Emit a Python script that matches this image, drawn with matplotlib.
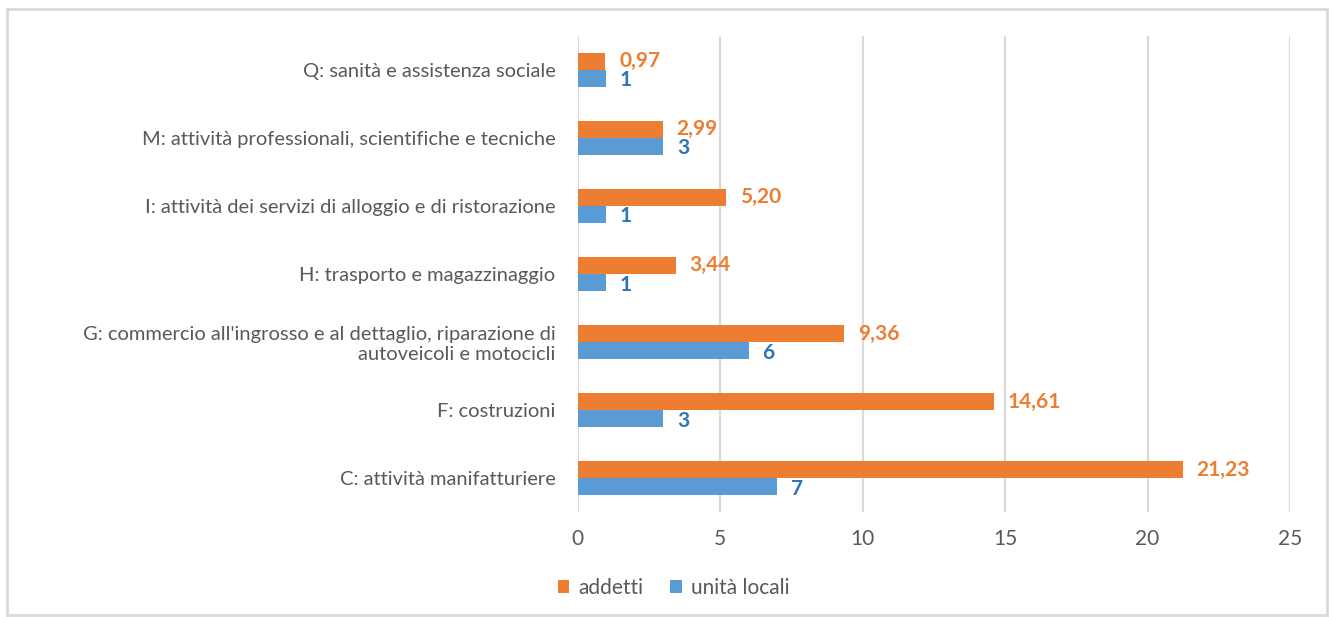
import matplotlib
matplotlib.use("Agg")
import matplotlib.pyplot as plt
import numpy as np
from matplotlib.patches import Rectangle

categories = [
    "C: attività manifatturiere",
    "F: costruzioni",
    "G: commercio all'ingrosso e al dettaglio, riparazione di\nautoveicoli e motocicli",
    "H: trasporto e magazzinaggio",
    "I: attività dei servizi di alloggio e di ristorazione",
    "M: attività professionali, scientifiche e tecniche",
    "Q: sanità e assistenza sociale",
]
addetti = [21.23, 14.61, 9.36, 3.44, 5.20, 2.99, 0.97]
unita_locali = [7, 3, 6, 1, 1, 3, 1]
xticks = [0, 5, 10, 15, 20, 25]

orange = "#ED7D31"
blue = "#5B9BD5"
text_gray = "#595959"

plt.rcParams['font.family'] = ['Lato', 'DejaVu Sans']

fig = plt.figure(figsize=(13.34, 6.17), dpi=100)
ax = fig.add_axes([0.433, 0.170, 0.534, 0.772])

y = np.arange(len(categories))
h = 0.25
ax.barh(y + h / 2, addetti, height=h, color=orange, label="addetti")
ax.barh(y - h / 2, unita_locali, height=h, color=blue, label="unità locali")

for yi, v in zip(y, addetti):
    ax.annotate(f"{v:.2f}".replace(".", ","), (v, yi + h / 2), xytext=(10, 0),
                textcoords="offset points", va="center", ha="left",
                color=orange, fontsize=15, fontweight="bold")
for yi, v in zip(y, unita_locali):
    ax.annotate(f"{v}", (v, yi - h / 2), xytext=(10, -1.5),
                textcoords="offset points", va="center", ha="left",
                color="#2E75B6", fontsize=15, fontweight="bold")

ax.set_xlim(0, 25)
ax.set_ylim(-0.5, len(categories) - 0.5)
ax.set_xticks(xticks)
ax.set_yticks(y)
ax.set_yticklabels(categories, ha="right")
ax.tick_params(axis="both", length=0, colors=text_gray, labelsize=15)
ax.tick_params(axis="y", pad=16, labelsize=14.5)
ax.tick_params(axis="x", pad=12)
ax.xaxis.grid(True, color="#D9D9D9", linewidth=1.5)
ax.set_axisbelow(True)
for s in ax.spines.values():
    s.set_visible(False)

leg = fig.legend(loc="center", bbox_to_anchor=(0.505, 0.047), ncol=2, frameon=False,
                 fontsize=15, handlelength=0.55, handleheight=0.55, handletextpad=0.45,
                 columnspacing=1.3)
for t in leg.get_texts():
    t.set_color(text_gray)

fig.patches.append(Rectangle((0.005, 0.004), 0.99, 0.982, transform=fig.transFigure,
                             fill=False, edgecolor="#D9D9D9", linewidth=2))

fig.savefig("out.png", dpi=100)
